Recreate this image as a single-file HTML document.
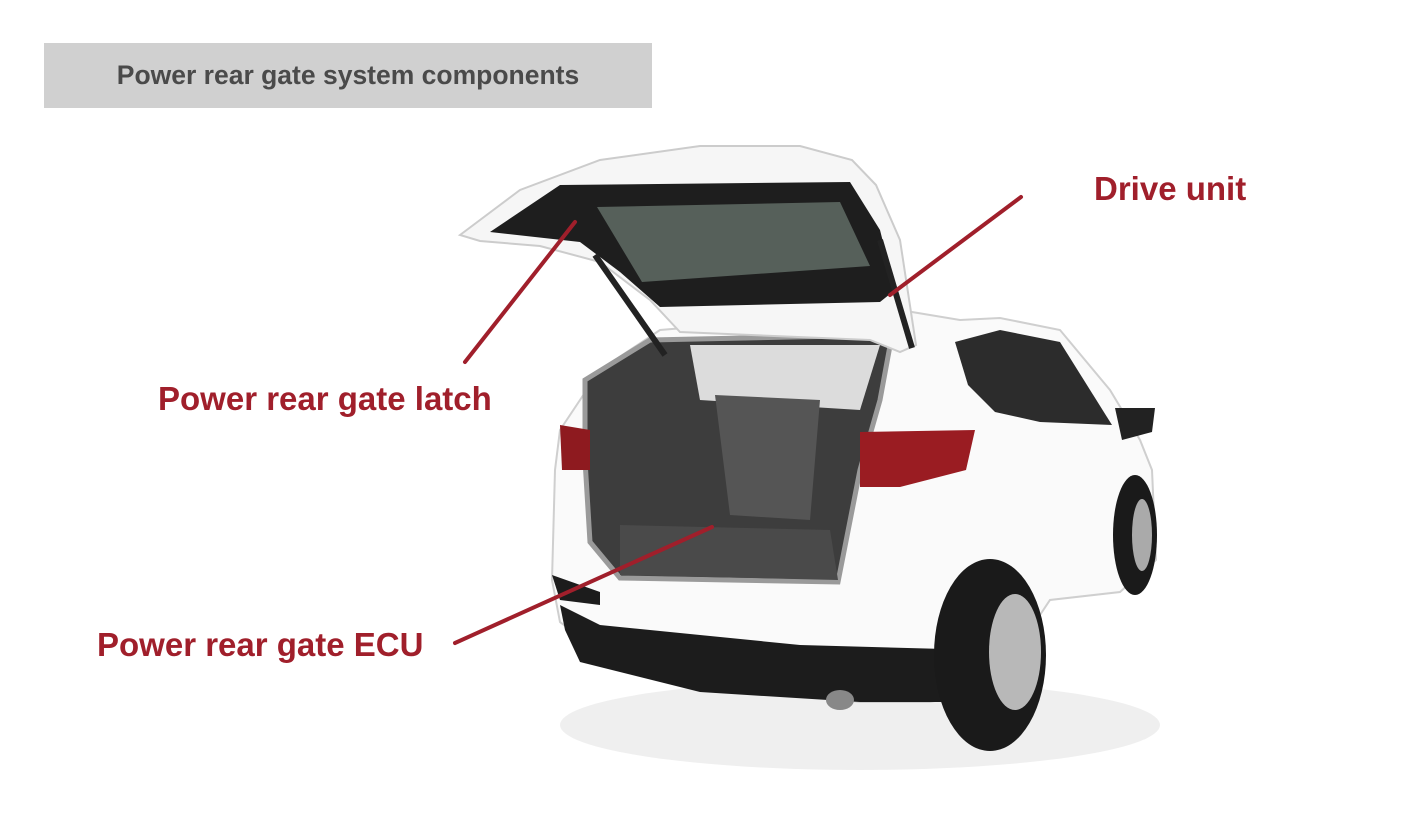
<!DOCTYPE html>
<html><head><meta charset="utf-8"><style>
html,body{margin:0;padding:0;background:#fff;}
body{width:1401px;height:821px;position:relative;overflow:hidden;font-family:"Liberation Sans",sans-serif;}
.title{position:absolute;left:44px;top:43px;width:608px;height:65px;background:#d0d0d0;color:#4a4a4a;font-weight:bold;font-size:26.5px;line-height:65px;text-align:center;}
.lbl{position:absolute;color:#a01f2b;font-weight:bold;font-size:33px;white-space:nowrap;}
svg{position:absolute;left:0;top:0;}
</style></head><body>
<svg width="1401" height="821" viewBox="0 0 1401 821">
<ellipse cx="860" cy="725" rx="300" ry="45" fill="#efefef"/>
<!-- body -->
<polygon points="560,430 600,370 660,330 900,310 960,320 1000,318 1060,330 1110,390 1140,440 1152,470 1156,560 1120,592 1050,600 990,690 930,702 860,702 780,692 600,652 560,622 552,580 555,470" fill="#fafafa" stroke="#cfcfcf" stroke-width="2"/>
<!-- side windows -->
<polygon points="955,342 1000,330 1060,342 1112,425 1040,422 995,412 968,385" fill="#2c2c2c"/>
<polygon points="1115,408 1155,408 1152,432 1122,440" fill="#222"/>
<!-- cargo -->
<polygon points="585,380 650,340 892,335 880,400 860,470 838,582 620,578 590,542 585,460" fill="#3d3d3d" stroke="#9a9a9a" stroke-width="5"/>
<polygon points="690,345 880,345 860,410 700,400" fill="#dcdcdc"/>
<polygon points="715,395 820,400 810,520 730,515" fill="#555"/>
<polygon points="620,525 830,530 838,580 620,575" fill="#4a4a4a"/>
<!-- taillights -->
<polygon points="560,425 590,430 590,470 562,470" fill="#8e1a1f"/>
<polygon points="860,432 975,430 966,470 900,487 860,487" fill="#9a1c22"/>
<!-- bumper -->
<path d="M552,575 L600,592 L600,605 L560,600 Z" fill="#1c1c1c"/>
<path d="M560,605 L600,625 L800,645 L982,650 L986,682 L950,702 L860,702 L700,692 L580,662 L565,630 Z" fill="#1c1c1c"/>
<ellipse cx="840" cy="700" rx="14" ry="10" fill="#888"/>
<!-- wheels -->
<ellipse cx="990" cy="655" rx="56" ry="96" fill="#1a1a1a"/>
<ellipse cx="1015" cy="652" rx="26" ry="58" fill="#b8b8b8"/>
<ellipse cx="1135" cy="535" rx="22" ry="60" fill="#1a1a1a"/>
<ellipse cx="1142" cy="535" rx="10" ry="36" fill="#aaa"/>
<!-- tailgate -->
<polygon points="460,235 520,190 600,160 700,146 800,146 852,160 876,185 900,240 916,345 900,352 870,340 680,332 650,300 600,262 540,246 480,241" fill="#f6f6f6" stroke="#cccccc" stroke-width="2"/>
<polygon points="490,232 560,185 850,182 880,230 895,290 880,302 660,307 620,272 580,242" fill="#1e1e1e"/>
<polygon points="597,207 840,202 870,266 642,282" fill="#56605a"/>
<line x1="595" y1="255" x2="665" y2="355" stroke="#222" stroke-width="6"/>
<line x1="880" y1="240" x2="912" y2="348" stroke="#222" stroke-width="6"/>
<!-- connector lines -->
<g stroke="#a01f2b" stroke-width="4" stroke-linecap="round">
<line x1="1021" y1="197" x2="890" y2="295"/>
<line x1="465" y1="362" x2="575" y2="222"/>
<line x1="455" y1="643" x2="712" y2="527"/>
</g>
</svg>
<div class="title">Power rear gate system components</div>
<div class="lbl" style="left:1094px;top:170px;">Drive unit</div>
<div class="lbl" style="left:158px;top:380px;">Power rear gate latch</div>
<div class="lbl" style="left:97px;top:626px;">Power rear gate ECU</div>
</body></html>
